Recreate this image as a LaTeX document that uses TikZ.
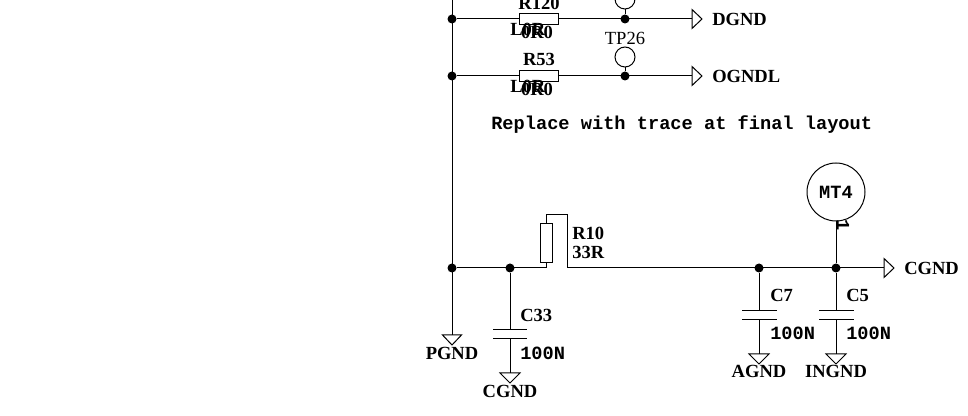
\documentclass[tikz,border=0pt]{standalone}
\usepackage{fontspec}
\setmainfont{Liberation Serif}
\setmonofont{Liberation Mono}
\usepackage{tikz}

\tikzset{
    lbl/.style={inner sep=0pt, font=\fontsize{13.9}{15}\selectfont\bfseries},
    monolbl/.style={inner sep=0pt, font=\fontsize{14}{15}\selectfont\ttfamily\bfseries},
    wire/.style={line width=0.75pt},
    dot/.style={circle, fill, inner sep=0pt, minimum size=6.75pt},
    resbox/.style={draw, line width=0.75pt, fill=white, inner sep=0pt},
    tpad/.style={circle, draw, line width=0.75pt, inner sep=0pt, minimum size=15pt},
    plate/.style={line width=0.75pt}
}

\begin{document}
\begin{tikzpicture}[x=0.75pt, y=-0.75pt]
            \useasboundingbox (0, 0) rectangle (968, 416);
            \clip (0, 0) rectangle (968, 416);

            % bus
            \coordinate (bustop) at (452, -5);
            \node[dot] (j1) at (452, 19) {};
            \node[dot] (j2) at (452, 76) {};
            \node[dot] (j3) at (452, 268) {};
            \coordinate (pgndin) at (452, 335);
            \draw[wire] (bustop) -- (pgndin);

            % DGND branch
            \node[dot] (j4) at (625, 19) {};
            \coordinate (dgndin) at (692, 19);
            \draw[wire] (j1) -- (dgndin);
            \node[resbox, minimum width=29.25pt, minimum height=8.25pt] (r120) at (538.5, 19) {};
            \node[lbl] (r120name) at (539, 3) {R120};
            \node[lbl, anchor=west] (r120pkg) at (510, 29) {L0R};
            \node[lbl] (r120val) at (537, 32) {0R0};
            \node[tpad] (tptop) at (625, -1) {};
            \draw[wire] (tptop) -- (j4);
            \draw[wire] (692, 9.5) -- (702, 19) -- (692, 28.5) -- cycle;
            \node[lbl, anchor=west] (dgnd) at (712, 19) {DGND};

            % OGNDL branch
            \node[dot] (j5) at (625, 76) {};
            \coordinate (ogndin) at (692, 76);
            \draw[wire] (j2) -- (ogndin);
            \node[resbox, minimum width=29.25pt, minimum height=8.25pt] (r53) at (538.5, 76) {};
            \node[lbl] (r53name) at (539, 59) {R53};
            \node[lbl, anchor=west] (r53pkg) at (510, 86) {L0R};
            \node[lbl] (r53val) at (537, 89) {0R0};
            \node[tpad] (tp26) at (625, 57) {};
            \node[inner sep=0pt, font=\fontsize{13.9}{15}\selectfont] (tp26name) at (625, 38) {TP26};
            \draw[wire] (tp26) -- (j5);
            \draw[wire] (692, 66.5) -- (702, 76) -- (692, 85.5) -- cycle;
            \node[lbl, anchor=west] (ogndl) at (712, 76) {OGNDL};

            \node[monolbl, anchor=west] (note) at (491, 125) {Replace with trace at final layout};

            % R10 and CGND line
            \node[dot] (j6) at (510, 268) {};
            \node[resbox, minimum width=9pt, minimum height=29.25pt] (r10) at (546, 243.5) {};
            \node[lbl, anchor=west] (r10name) at (572, 233) {R10};
            \node[lbl, anchor=west] (r10val) at (572, 252) {33R};
            \coordinate (r10a) at (546, 268);
            \coordinate (r10b) at (546, 214.5);
            \coordinate (r10c) at (567, 214.5);
            \coordinate (r10d) at (567, 268);
            \coordinate (cgndin) at (884, 268);
            \draw[wire] (j3) -- (r10a) -- (r10);
            \draw[wire] (r10) -- (r10b) -- (r10c) -- (r10d) -- (cgndin);
            \draw[wire] (884, 258.5) -- (894, 268) -- (884, 277.5) -- cycle;
            \node[lbl, anchor=west] (cgnd) at (904, 268) {CGND};

            % C33
            \coordinate (c33a) at (510, 330);
            \coordinate (c33b) at (510, 339);
            \coordinate (c33out) at (510, 373);
            \draw[wire] (j6) -- (c33a);
            \draw[wire] (c33b) -- (c33out);
            \draw[plate] (493, 330) -- (527, 330);
            \draw[plate] (493, 339) -- (527, 339);
            \draw[wire] (500, 373) -- (520, 373) -- (510, 383) -- cycle;
            \node[lbl, anchor=west] (c33name) at (520, 315) {C33};
            \node[monolbl, anchor=west] (c33val) at (520, 353) {100N};
            \node[lbl] (cgndb) at (510, 391) {CGND};

            % PGND
            \draw[wire] (442.5, 335) -- (461.5, 335) -- (452, 345) -- cycle;
            \node[lbl] (pgnd) at (452, 353) {PGND};

            % C7
            \node[dot] (j7) at (759, 268) {};
            \coordinate (c7a) at (759, 311);
            \coordinate (c7b) at (759, 320);
            \coordinate (c7out) at (759, 354);
            \draw[wire] (j7) -- (c7a);
            \draw[wire] (c7b) -- (c7out);
            \draw[plate] (742, 311) -- (777, 311);
            \draw[plate] (742, 320) -- (777, 320);
            \draw[wire] (749, 354) -- (769, 354) -- (759, 364) -- cycle;
            \node[lbl, anchor=west] (c7name) at (770, 295) {C7};
            \node[monolbl, anchor=west] (c7val) at (770, 333) {100N};
            \node[lbl] (agnd) at (759, 371) {AGND};

            % C5 and MT4
            \node[dot] (j8) at (836, 268) {};
            \node[circle, draw, line width=0.75pt, inner sep=0pt, minimum size=43.5pt, monolbl] (mt4) at (836, 192) {MT4};
            \node[monolbl, rotate=-90] (mt4pin) at (843, 225) {1};
            \draw[wire] (mt4) -- (j8);
            \coordinate (c5a) at (836, 311);
            \coordinate (c5b) at (836, 320);
            \coordinate (c5out) at (836, 354);
            \draw[wire] (j8) -- (c5a);
            \draw[wire] (c5b) -- (c5out);
            \draw[plate] (819, 311) -- (854, 311);
            \draw[plate] (819, 320) -- (854, 320);
            \draw[wire] (826, 354) -- (846, 354) -- (836, 364) -- cycle;
            \node[lbl, anchor=west] (c5name) at (846, 295) {C5};
            \node[monolbl, anchor=west] (c5val) at (846, 333) {100N};
            \node[lbl] (ingnd) at (836, 371) {INGND};
        \end{tikzpicture}
\end{document}
